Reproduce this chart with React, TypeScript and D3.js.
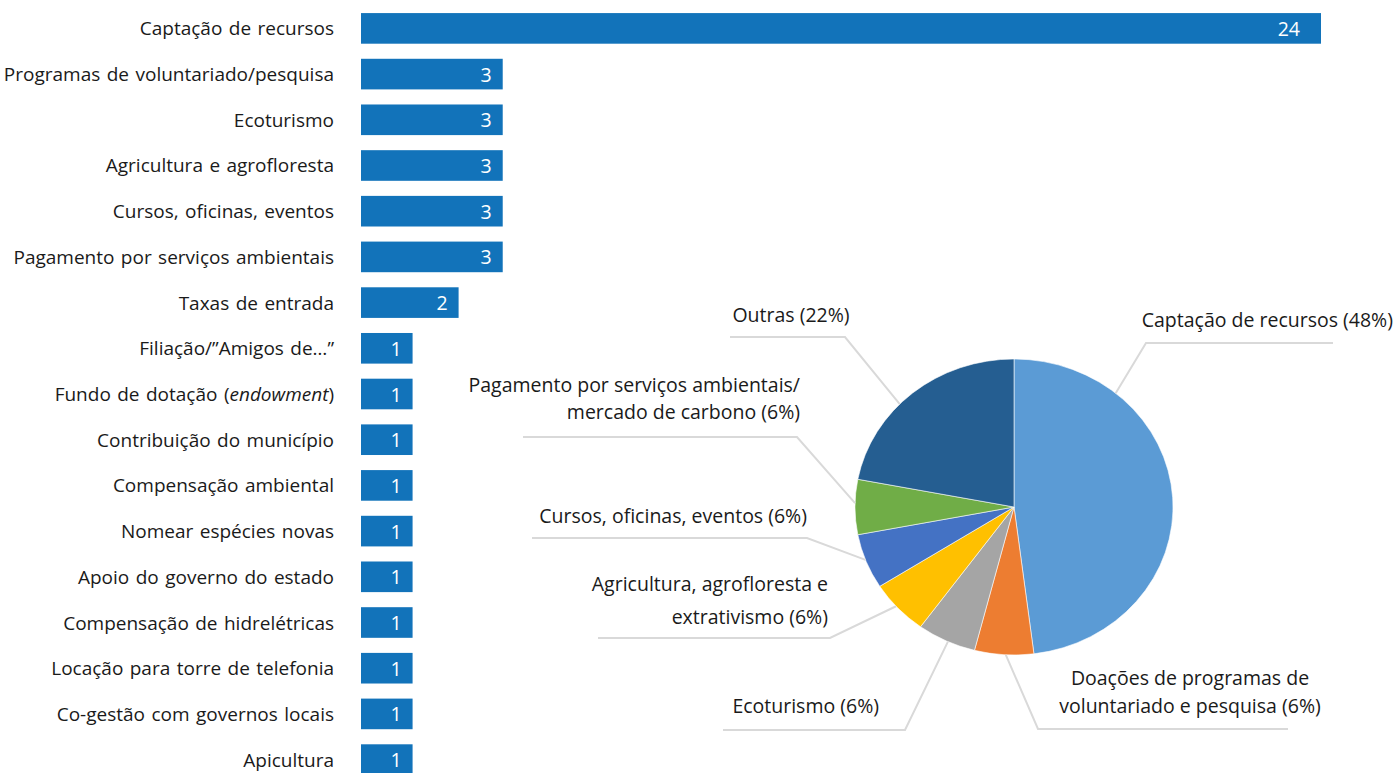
import React from 'react'
import * as d3 from 'd3'

const W = 1396
const H = 773
const FONT = '"Open Sans", "Noto Sans", sans-serif'

// bar chart data
const barCategories = [
  'Captação de recursos',
  'Programas de voluntariado/pesquisa',
  'Ecoturismo',
  'Agricultura e agrofloresta',
  'Cursos, oficinas, eventos',
  'Pagamento por serviços ambientais',
  'Taxas de entrada',
  'Filiação/”Amigos de…”',
  'Fundo de dotação (*endowment*)',
  'Contribuição do município',
  'Compensação ambiental',
  'Nomear espécies novas',
  'Apoio do governo do estado',
  'Compensação de hidrelétricas',
  'Locação para torre de telefonia',
  'Co-gestão com governos locais',
  'Apicultura',
]
const barValues = [24, 3, 3, 3, 3, 3, 2, 1, 1, 1, 1, 1, 1, 1, 1, 1, 1]

// pie data
const pieLabels = [
  ['Captação de recursos (48%)'],
  ['Doações de programas de', 'voluntariado e pesquisa (6%)'],
  ['Ecoturismo (6%)'],
  ['Agricultura, agrofloresta e', 'extrativismo (6%)'],
  ['Cursos, oficinas, eventos (6%)'],
  ['Pagamento por serviços ambientais/', 'mercado de carbono (6%)'],
  ['Outras (22%)'],
]
const pieValues = [24, 3, 3, 3, 3, 3, 11]
const pieColors = ['#5B9BD5', '#ED7D31', '#A5A5A5', '#FFC000', '#4472C4', '#70AD47', '#255E91']

// label placement for the pie callouts
const labelLayout = [
  { anchor: 'end', x: 1393, ys: [327], lineY: 343, x0: 1333, x1: 1146, t: 0.23 },
  { anchor: 'middle', x: 1190, ys: [685, 713], lineY: 729, x0: 1288, x1: 1038, t: 0.47 },
  { anchor: 'end', x: 879, ys: [713], lineY: 730, x0: 723, x1: 905, t: 0.47 },
  { anchor: 'end', x: 828, ys: [591, 624], lineY: 638, x0: 598, x1: 830, t: 0.55 },
  { anchor: 'end', x: 807, ys: [523], lineY: 538, x0: 532, x1: 807, t: 0.53 },
  { anchor: 'end', x: 800, ys: [392, 419], lineY: 437, x0: 523, x1: 797, t: 0.57 },
  { anchor: 'middle', x: 791, ys: [322], lineY: 337, x0: 730, x1: 845, t: 0.42 },
]

function BarLabel({ text, x, y }: { text: string; x: number; y: number }) {
  const parts = text.split('*')
  return (
    <text x={x} y={y} textAnchor="end" dominantBaseline="central" fontSize={19} fill="#1a1a1a" fontFamily={FONT} wordSpacing={1.5}>
      {parts.map((p, i) => (
        <tspan key={i} fontStyle={i % 2 === 1 ? 'italic' : 'normal'}>{p}</tspan>
      ))}
    </text>
  )
}

export default function App() {
  const x = d3.scalePow().exponent(0.92).domain([0, 24]).range([361, 1321])
  const y = d3.scaleBand<string>().domain(barCategories).range([-2, 790]).padding(0.33)

  const cx = 1014
  const cy = 507
  const rx = 159
  const ry = 148
  const pie = d3.pie<number>().sort(null).value(d => d)
  const arcs = pie(pieValues)
  const arc = d3.arc<d3.PieArcDatum<number>>().innerRadius(0).outerRadius(rx)

  return (
    <svg width={W} height={H} style={{ position: 'absolute', left: 0, top: 0, background: '#fff' }}>
      <g>
        {barCategories.map((c, i) => {
          const yy = y(c)!
          const bw = y.bandwidth()
          const end = x(barValues[i])
          const digits = String(barValues[i]).length
          return (
            <g key={c}>
              <rect x={x(0)} y={yy} width={end - x(0)} height={bw} fill="#1273BA" />
              <BarLabel text={c} x={334} y={yy + bw / 2} />
              <text x={end - 11 - (digits - 1) * 10} y={yy + bw / 2} textAnchor="end" dominantBaseline="central" fontSize={19.5} fill="#fff" fontFamily={FONT}>
                {barValues[i]}
              </text>
            </g>
          )
        })}
      </g>
      <g transform={`translate(${cx},${cy}) scale(1,${ry / rx})`}>
        {arcs.map((a, i) => (
          <path key={i} d={arc(a)!} fill={pieColors[i]} stroke="#fff" strokeWidth={0.6} />
        ))}
      </g>
      <g>
        {arcs.map((a, i) => {
          const L = labelLayout[i]
          const ang = a.startAngle + L.t * (a.endAngle - a.startAngle)
          const ex = cx + rx * Math.sin(ang)
          const ey = cy - ry * Math.cos(ang)
          return (
            <g key={i}>
              <polyline points={`${L.x0},${L.lineY} ${L.x1},${L.lineY} ${ex},${ey}`} fill="none" stroke="#D9D9D9" strokeWidth={2} />
              <text textAnchor={L.anchor} fontSize={19.5} fill="#1a1a1a" fontFamily={FONT}>
                {pieLabels[i].map((ln, j) => (
                  <tspan key={j} x={L.x} y={L.ys[j]}>{ln}</tspan>
                ))}
              </text>
            </g>
          )
        })}
      </g>
    </svg>
  )
}
